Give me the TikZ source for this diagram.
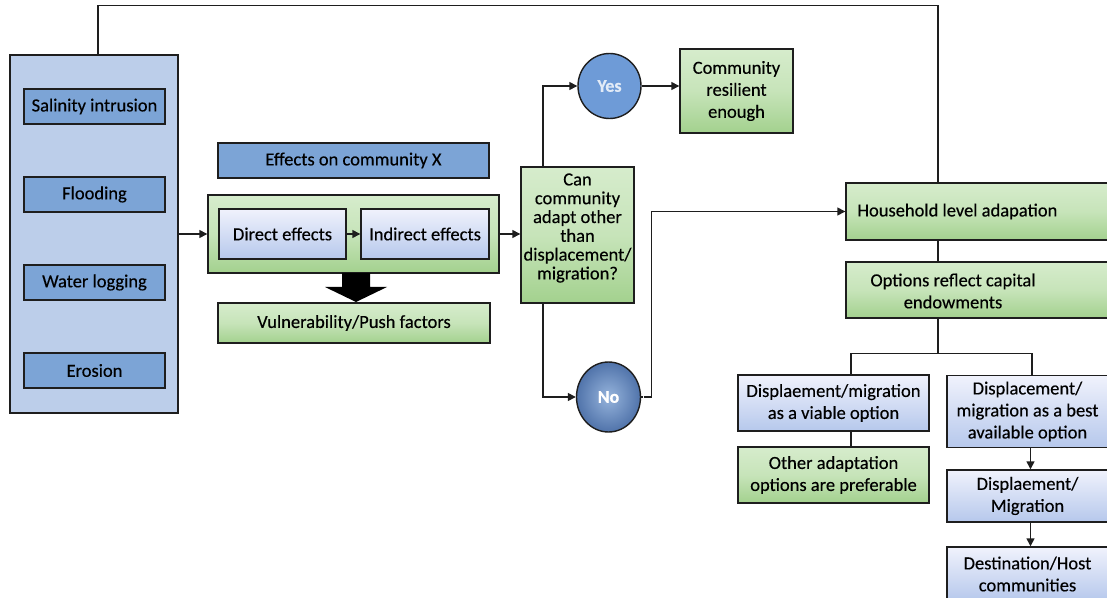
\documentclass[tikz,border=0pt]{standalone}
\usepackage{fontspec}
\setmainfont{Carlito}[FakeBold=0.3]
\usetikzlibrary{arrows.meta,shapes.geometric}

\definecolor{frameblue}{RGB}{188,206,234}
\definecolor{tileblue}{RGB}{124,164,214}
\definecolor{greentop}{RGB}{214,236,204}
\definecolor{greenbot}{RGB}{163,209,142}
\definecolor{lavtop}{RGB}{240,242,252}
\definecolor{lavbot}{RGB}{182,200,236}
\definecolor{yesblue}{RGB}{110,155,215}
\definecolor{nobluetop}{RGB}{150,180,220}
\definecolor{noblubot}{RGB}{80,115,170}
\definecolor{edge}{RGB}{30,30,30}

\tikzset{
  base/.style={draw=edge, line width=1.4bp, inner sep=0pt, align=center,
               font=\fontsize{18.5bp}{20bp}\selectfont},
  tile/.style={base, fill=tileblue},
  greenbox/.style={base, top color=greentop, bottom color=greenbot, middle color=greentop!70!greenbot},
  lavbox/.style={base, top color=lavtop, bottom color=lavbot},
  conn/.style={draw=edge, line width=1.4bp},
  arr/.style={conn, -{Triangle[length=8bp,width=8bp]}},
  txt/.style={inner sep=0pt, align=center, font=\fontsize{18.5bp}{22bp}\selectfont},
  wide/.style={font=\fontsize{18.5bp}{22bp}\selectfont}
}

\begin{document}
\begin{tikzpicture}[x=1bp,y=-1bp]
\useasboundingbox[fill=white] (0,0) rectangle (1107,598);

% hazards column
\node[base, fill=frameblue, minimum width=168bp, minimum height=358bp] (haz) at (94,234) {};
\node[tile, minimum width=141bp, minimum height=35bp] (sal) at (94.5,106.5) {Salinity intrusion};
\node[tile, minimum width=141bp, minimum height=35bp] (flood) at (94.5,194.5) {Flooding};
\node[tile, minimum width=141bp, minimum height=35bp] (water) at (94.5,282.5) {Water logging};
\node[tile, minimum width=141bp, minimum height=35bp] (ero) at (94.5,370.5) {Erosion};

% effects on the community
\node[tile, minimum width=271bp, minimum height=35bp] (effx) at (353.5,160.5) {Effects on community X};
\node[greenbox, minimum width=291bp, minimum height=78bp] (cont) at (353.5,234) {};
\node[lavbox, minimum width=127bp, minimum height=50bp] (direct) at (282.5,234) {Direct effects};
\node[lavbox, minimum width=128bp, minimum height=50bp] (indirect) at (425,234) {Indirect effects};
\node[greenbox, minimum width=272bp, minimum height=40bp] (vuln) at (354,323) {Vulnerability/Push factors};

% decision
\node[greenbox, minimum width=113bp, minimum height=136bp] (dec) at (577.5,235) {};
\node[txt, font=\fontsize{18.5bp}{18.8bp}\selectfont] (dectext) at (577.5,228)
  {Can\\community\\adapt other\\than\\displacement/\\migration?};
\node[ellipse, draw=edge, line width=1.4bp, fill=yesblue, minimum width=63bp, minimum height=65bp, inner sep=0pt,
      font=\fontsize{18bp}{20bp}\selectfont\bfseries, text=white!80!yesblue] (yes) at (609.5,86) {Yes};
\node[greenbox, wide, minimum width=113bp, minimum height=84bp] (res) at (736.5,91) {Community\\resilient\\enough};
\node[ellipse, draw=edge, line width=1.4bp, inner color=nobluetop, outer color=noblubot, minimum width=64bp, minimum height=70bp, inner sep=0pt,
      font=\fontsize{18bp}{20bp}\selectfont\bfseries, text=white] (no) at (608.5,397) {No};

% household level
\node[greenbox, minimum width=262bp, minimum height=57bp] (hh) at (977,211.5) {};
\node[txt, anchor=west] (hhtext) at ([xshift=12bp]hh.west) {Household level adapation};
\node[greenbox, minimum width=262bp, minimum height=56bp] (opt) at (977,290) {};
\node[txt] (opttext) at (953,291) {Options reflect capital\\endowments};

\node[lavbox, wide, minimum width=191bp, minimum height=56bp] (viable) at (833.5,403) {Displaement/migration\\as a viable option};
\node[greenbox, wide, minimum width=191bp, minimum height=56bp] (other) at (833.5,475) {Other adaptation\\options are preferable};
\node[lavbox, wide, minimum width=161bp, minimum height=72bp] (best) at (1027.5,411.5) {Displacement/\\migration as a best\\available option};
\node[lavbox, wide, minimum width=161bp, minimum height=52bp] (dm) at (1027.5,496) {Displaement/\\Migration};
\node[lavbox, wide, minimum width=161bp, minimum height=54bp] (dest) at (1027.5,574) {Destination/Host\\communities};

% push-factor arrow
\fill[black] (342,273) -- (370,273) -- (370,287) -- (387,287) -- (356,302) -- (325,287) -- (342,287) -- cycle;

% connectors
\draw[conn] ([xshift=4bp]haz.north) -- ++(0,-49) -| ([xshift=-39bp]hh.north);
\draw[arr] (haz.east |- cont.west) -- (cont.west);
\draw[arr] (direct.east) -- (indirect.west);
\draw[arr] (cont.east) -- (cont.east -| dec.west);
\draw[arr] ([xshift=-34.5bp]dec.north) |- (yes.west);
\draw[arr] (yes.east) -- (yes.east -| res.west);
\draw[arr] ([xshift=-34.5bp]dec.south) |- (no.west);
\draw[conn, densely dotted] (no.east) -- ++(4,0) coordinate (nturn);
\draw[arr] (nturn) -- ++(6,0) |- (hh.west);
\draw[conn] ([xshift=-39bp]hh.south) -- ([xshift=-39bp]opt.north);
\draw[conn] ([xshift=-39bp]opt.south) -- ++(0,35) coordinate (fork);
\draw[conn] ([xshift=17.5bp]viable.north) |- (fork) -| ([xshift=4.5bp]best.north);
\draw[conn] ([xshift=17.5bp]viable.south) -- ([xshift=17.5bp]other.north);
\draw[arr] ([xshift=3bp]best.south) -- ([xshift=3bp]dm.north);
\draw[arr] ([xshift=3bp]dm.south) -- ([xshift=3bp]dest.north);
\end{tikzpicture}
\end{document}
